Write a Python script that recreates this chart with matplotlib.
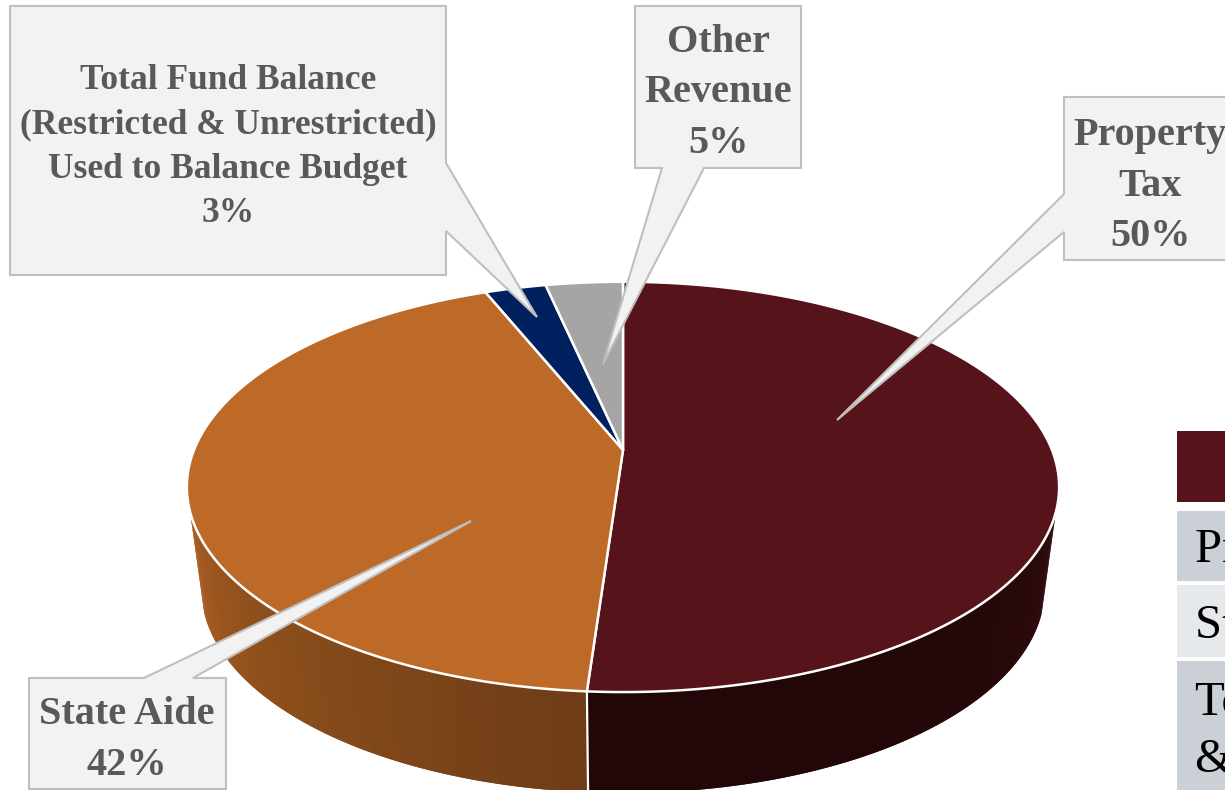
import matplotlib
matplotlib.use("Agg")
import matplotlib.pyplot as plt
from matplotlib.colors import LinearSegmentedColormap
from matplotlib.patches import Polygon, Rectangle
import numpy as np

# slice shares as measured on the pie, clockwise from the top
names = ["Property Tax", "State Aide", "Total Fund Balance", "Other Revenue"]
shares = [51.1, 42.8, 2.7, 3.4]
colors = ["#57131A", "#BD6A28", "#002060", "#A5A5A5"]
callouts = ["Property\nTax\n50%", "State Aide\n42%",
            "Total Fund Balance\n(Restricted & Unrestricted)\nUsed to Balance Budget\n3%",
            "Other\nRevenue\n5%"]
table_rows = ["Property Tax", "State Aide", "Total Fund", "& Other"]

plt.rcParams["font.family"] = ["Liberation Serif", "DejaVu Serif"]

fig = plt.figure(figsize=(12.25, 7.9), dpi=100)
ax = fig.add_axes([0, 0, 1, 1])
ax.set_xlim(0, 1225)
ax.set_ylim(790, 0)
ax.axis("off")

# pie tilted in perspective, apex is not the middle of the ellipse
cx, cy = 623, 450
k, cy_scale, cx_scale = 0.18, 198.5, 429


def rim(theta):
    xx = np.sin(theta)
    yy = np.cos(theta)
    return cx + cx_scale * xx / (1 + k * yy), cy - cy_scale * yy / (1 + k * yy)


def low_rim(theta):
    # lower edge of the side wall, same ellipse a bit smaller and lower
    x, y = rim(theta)
    return cx + (x - cx) * 0.967, y + 102 + (y - 487) * -0.005


edges = np.radians(np.concatenate([[0], np.cumsum(shares)]) * 3.6)

# side wall first, in thin strips for the shading
side_maps = {
    0: LinearSegmentedColormap.from_list("m", ["#2E0B0E", "#240709", "#220608", "#220608"]),
    1: LinearSegmentedColormap.from_list("o", ["#6E3C17", "#7E4619", "#8F501C", "#A85C22"]),
}
for i in [0, 1]:
    a0 = max(edges[i], np.radians(107))
    a1 = min(edges[i + 1], np.radians(253))
    th = np.linspace(a0, a1, 120)
    for j in range(len(th) - 1):
        # each strip runs over the next one so no gaps show
        th2 = th[[j, min(j + 2, len(th) - 1)]]
        x1, y1 = rim(th2)
        x2, y2 = low_rim(th2[::-1])
        pts = np.column_stack([np.r_[x1, x2], np.r_[y1, y2]])
        c = side_maps[i](j / (len(th) - 2))
        ax.add_patch(Polygon(pts, closed=True, fc=c, ec="none", zorder=1))

# white seam where the two walls meet
x_top, y_top = rim(edges[1])
x_low, y_low = low_rim(edges[1])
ax.plot([x_top, x_low], [y_top, y_low], color="white", lw=1.6, zorder=2)

# top of the pie
for i in range(len(shares)):
    th = np.linspace(edges[i], edges[i + 1], 200)
    x, y = rim(th)
    pts = np.column_stack([np.r_[cx, x], np.r_[cy, y]])
    ax.add_patch(Polygon(pts, closed=True, fc=colors[i], ec="white", lw=1.8, zorder=3, joinstyle="round"))

# callouts: box outline with the wedge going to the slice
outlines = [
    [(1064, 97), (1240, 97), (1240, 260), (1064, 260), (1064, 232), (837, 420), (1064, 194)],
    [(29, 678), (144, 678), (471, 521), (193, 678), (226, 678), (226, 789), (29, 789)],
    [(10, 6), (446, 6), (446, 163), (537, 317), (446, 231), (446, 275), (10, 275)],
    [(635, 6), (801, 6), (801, 168), (704, 168), (603, 364), (662, 168), (635, 168)],
]
sizes = [29, 29, 25.5, 29]
text_pos = [(1150, 186), (127, 740), (228, 147), (718, 93)]
spacing = [1.5, 1.47, 1.45, 1.49]
for i in range(4):
    ax.add_patch(Polygon(outlines[i], closed=True, fc="#F2F2F2", ec="#BFBFBF", lw=1.5, zorder=5, joinstyle="miter"))
    ax.text(text_pos[i][0], text_pos[i][1], callouts[i], ha="center", va="center", multialignment="center",
            color="#595959", fontsize=sizes[i], fontweight="bold", linespacing=spacing[i], zorder=6)

# table on the right, cut off by the image edge
ax.add_patch(Rectangle((1177, 431), 60, 71, fc="#57131A", ec="none", zorder=2))
ax.add_patch(Rectangle((1177, 511), 60, 70, fc="#CBD0D7", ec="none", zorder=2))
ax.add_patch(Rectangle((1177, 585), 60, 72, fc="#E6E9EC", ec="none", zorder=2))
ax.add_patch(Rectangle((1177, 661), 60, 135, fc="#CBD0D7", ec="none", zorder=2))
row_base = [562, 638, 715, 772]
for i in range(4):
    ax.text(1195, row_base[i], table_rows[i], ha="left", va="baseline", color="black",
            fontsize=35, zorder=3)

fig.savefig("out.png", dpi=100)
